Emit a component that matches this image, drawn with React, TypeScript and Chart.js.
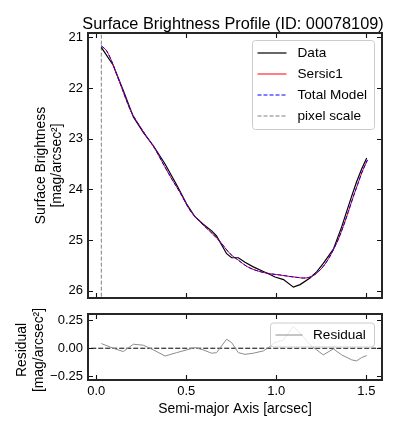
import React, { useEffect, useRef } from 'react';
import { Chart, registerables } from 'chart.js';

Chart.register(...registerables);

const FONT = "'Liberation Sans', Arial, Helvetica, sans-serif";

const TITLE = 'Surface Brightness Profile (ID: 00078109)';
const Y_LABEL_MAIN = ['Surface Brightness', '[mag/arcsec\u00B2]'];
const Y_LABEL_RES = ['Residual', '[mag/arcsec\u00B2]'];
const X_LABEL = 'Semi-major Axis [arcsec]';

// Observed profile (semi-major axis in arcsec)
const radiusData = [0.028, 0.094, 0.15, 0.206, 0.262, 0.317, 0.382, 0.446, 0.502, 0.548, 0.594, 0.641, 0.668, 0.724, 0.752, 0.789, 0.826, 0.872, 0.928, 0.965, 0.993, 1.04, 1.095, 1.132, 1.187, 1.224, 1.261, 1.317, 1.363, 1.419, 1.446, 1.474, 1.502];
const sbData = [21.2, 21.55, 22.05, 22.57, 22.88, 23.14, 23.5, 23.91, 24.29, 24.54, 24.69, 24.82, 24.92, 25.27, 25.35, 25.35, 25.44, 25.53, 25.62, 25.68, 25.73, 25.78, 25.93, 25.88, 25.75, 25.63, 25.46, 25.18, 24.74, 24.13, 23.85, 23.6, 23.38];
const residualData = [0.042, 0.0, -0.03, 0.036, 0.027, -0.015, -0.07, -0.04, -0.015, 0.006, -0.015, -0.045, -0.04, 0.081, 0.05, -0.04, -0.055, -0.045, -0.024, 0.015, 0.05, 0.075, 0.196, 0.135, 0.03, -0.015, -0.06, -0.006, -0.06, -0.105, -0.114, -0.084, -0.066];

// Model profile
const radiusModel = [0.028, 0.056, 0.083, 0.111, 0.139, 0.167, 0.194, 0.232, 0.278, 0.324, 0.38, 0.42, 0.465, 0.52, 0.576, 0.632, 0.687, 0.743, 0.79, 0.836, 0.88, 0.928, 0.975, 1.02, 1.076, 1.122, 1.15, 1.18, 1.206, 1.235, 1.261, 1.29, 1.317, 1.345, 1.372, 1.4, 1.428, 1.452, 1.474, 1.506];
const sbSersic1 = [21.17, 21.26, 21.45, 21.71, 21.97, 22.24, 22.47, 22.7, 22.95, 23.19, 23.55, 23.8, 24.06, 24.41, 24.64, 24.83, 25.03, 25.27, 25.4, 25.52, 25.59, 25.64, 25.67, 25.69, 25.72, 25.74, 25.75, 25.74, 25.7, 25.62, 25.52, 25.37, 25.19, 24.98, 24.73, 24.44, 24.14, 23.9, 23.68, 23.42];
const sbTotal = sbSersic1;

const pixelScale = 0.028;

const xTicks = [0, 0.5, 1.0, 1.5];
const yTicksMain = [21, 22, 23, 24, 25, 26];
const yTicksRes = [-0.25, 0, 0.25];
const xMin = -0.046;
const xMax = 1.587;
const yMainTop = 20.915;
const yMainBottom = 26.144;
const yResMin = -0.286;
const yResMax = 0.308;

const pts = (xs: number[], ys: number[]) => xs.map((x, i) => ({ x, y: ys[i] }));

type LegendItem = { label: string; color: string; dash: number[]; width: number };

function drawFrame(chart: any, yVals: number[]) {
  const { ctx, chartArea: a, scales } = chart;
  ctx.save();
  ctx.setLineDash([]);
  ctx.strokeStyle = '#111';
  ctx.lineWidth = 1.1;
  const L = 5;
  ctx.beginPath();
  for (const v of xTicks) {
    const p = Math.round(scales.x.getPixelForValue(v)) + 0.5;
    ctx.moveTo(p, a.bottom);
    ctx.lineTo(p, a.bottom - L);
    ctx.moveTo(p, a.top);
    ctx.lineTo(p, a.top + L);
  }
  for (const v of yVals) {
    const p = Math.round(scales.y.getPixelForValue(v)) + 0.5;
    ctx.moveTo(a.left, p);
    ctx.lineTo(a.left + L, p);
    ctx.moveTo(a.right, p);
    ctx.lineTo(a.right - L, p);
  }
  ctx.stroke();
  ctx.strokeStyle = '#262626';
  ctx.lineWidth = 2;
  ctx.strokeRect(a.left, a.top, a.right - a.left, a.bottom - a.top);
  ctx.restore();
}

function drawVText(ctx: CanvasRenderingContext2D, text: string, x: number, y: number, size: number) {
  ctx.save();
  ctx.translate(x, y);
  ctx.rotate(-Math.PI / 2);
  ctx.font = `${size}px ${FONT}`;
  ctx.fillStyle = '#000';
  ctx.textAlign = 'center';
  ctx.textBaseline = 'middle';
  ctx.fillText(text, 0, 0);
  ctx.restore();
}

function roundRectPath(ctx: CanvasRenderingContext2D, x: number, y: number, w: number, h: number, r: number) {
  ctx.beginPath();
  ctx.moveTo(x + r, y);
  ctx.lineTo(x + w - r, y);
  ctx.arcTo(x + w, y, x + w, y + r, r);
  ctx.lineTo(x + w, y + h - r);
  ctx.arcTo(x + w, y + h, x + w - r, y + h, r);
  ctx.lineTo(x + r, y + h);
  ctx.arcTo(x, y + h, x, y + h - r, r);
  ctx.lineTo(x, y + r);
  ctx.arcTo(x, y, x + r, y, r);
  ctx.closePath();
}

function drawLegend(ctx: CanvasRenderingContext2D, box: { x: number; y: number; w: number; h: number }, items: LegendItem[], firstY: number, step: number, lineX0: number, lineX1: number, textX: number) {
  ctx.save();
  roundRectPath(ctx, box.x + 0.5, box.y + 0.5, box.w, box.h, 3);
  ctx.fillStyle = 'rgba(255,255,255,0.8)';
  ctx.fill();
  ctx.strokeStyle = '#cccccc';
  ctx.lineWidth = 1;
  ctx.stroke();
  ctx.font = `13.6px ${FONT}`;
  ctx.textAlign = 'left';
  ctx.textBaseline = 'middle';
  items.forEach((it, i) => {
    const y = firstY + i * step;
    ctx.beginPath();
    ctx.setLineDash(it.dash);
    ctx.strokeStyle = it.color;
    ctx.lineWidth = it.width;
    ctx.moveTo(lineX0, y + 0.5);
    ctx.lineTo(lineX1, y + 0.5);
    ctx.stroke();
    ctx.setLineDash([]);
    ctx.fillStyle = '#000';
    ctx.fillText(it.label, textX, y + 0.5);
  });
  ctx.restore();
}

const mainDecor = {
  id: 'mainDecor',
  afterDatasetsDraw(chart: any) {
    const ctx = chart.ctx as CanvasRenderingContext2D;
    drawLegend(
      ctx,
      { x: 252, y: 40, w: 122, h: 89 },
      [
        { label: 'Data', color: '#000000', dash: [], width: 1.2 },
        { label: 'Sersic1', color: '#ff0000', dash: [], width: 1 },
        { label: 'Total Model', color: '#0000ff', dash: [4, 2], width: 1 },
        { label: 'pixel scale', color: '#808080', dash: [4, 2], width: 1 },
      ],
      52.5, 21, 257.5, 286.5, 297.5
    );
  },
  afterDraw(chart: any) {
    const ctx = chart.ctx as CanvasRenderingContext2D;
    drawFrame(chart, yTicksMain);
    const a = chart.chartArea;
    ctx.save();
    ctx.font = `16.3px ${FONT}`;
    ctx.fillStyle = '#000';
    ctx.textAlign = 'center';
    ctx.textBaseline = 'alphabetic';
    ctx.fillText(TITLE, (a.left + a.right) / 2 - 2, 28.5);
    ctx.restore();
    const cy = (a.top + a.bottom) / 2;
    drawVText(ctx, Y_LABEL_MAIN[0], 41, cy, 13.9);
    drawVText(ctx, Y_LABEL_MAIN[1], 57, cy, 13.9);
  },
};

const resDecor = {
  id: 'resDecor',
  afterDatasetsDraw(chart: any) {
    const ctx = chart.ctx as CanvasRenderingContext2D;
    // box coords are relative to this canvas (top offset 306)
    drawLegend(
      ctx,
      { x: 270, y: 16.5, w: 104, h: 24 },
      [{ label: 'Residual', color: '#8c8c8c', dash: [], width: 1 }],
      28.5, 21, 275.5, 302.5, 313
    );
  },
  afterDraw(chart: any) {
    const ctx = chart.ctx as CanvasRenderingContext2D;
    drawFrame(chart, yTicksRes);
    const a = chart.chartArea;
    const cy = (a.top + a.bottom) / 2 + 3;
    drawVText(ctx, Y_LABEL_RES[0], 22, cy, 13.9);
    drawVText(ctx, Y_LABEL_RES[1], 39.5, cy, 13.9);
    ctx.save();
    ctx.font = `13.9px ${FONT}`;
    ctx.fillStyle = '#000';
    ctx.textAlign = 'center';
    ctx.textBaseline = 'middle';
    ctx.fillText(X_LABEL, (a.left + a.right) / 2, 409 - 306);
    ctx.restore();
  },
};

const tickFont = { family: FONT, size: 13 };

export default function App() {
  const mainRef = useRef<HTMLCanvasElement>(null);
  const resRef = useRef<HTMLCanvasElement>(null);

  useEffect(() => {
    if (!mainRef.current || !resRef.current) return;

    const mainChart = new Chart(mainRef.current, {
      type: 'line',
      data: {
        datasets: [
          {
            label: 'Data',
            data: pts(radiusData, sbData),
            borderColor: '#000000',
            borderWidth: 1.2,
            pointRadius: 0,
            tension: 0,
            order: 3,
          },
          {
            label: 'Sersic1',
            data: pts(radiusModel, sbSersic1),
            borderColor: '#ff0000',
            borderWidth: 1,
            pointRadius: 0,
            cubicInterpolationMode: 'monotone',
            order: 2,
          },
          {
            label: 'Total Model',
            data: pts(radiusModel, sbTotal),
            borderColor: '#0000ff',
            borderWidth: 1,
            borderDash: [4, 2],
            pointRadius: 0,
            cubicInterpolationMode: 'monotone',
            order: 1,
          },
          {
            label: 'pixel scale',
            data: [
              { x: pixelScale, y: 20 },
              { x: pixelScale, y: 27 },
            ],
            borderColor: '#808080',
            borderWidth: 1,
            borderDash: [4, 2],
            pointRadius: 0,
            order: 4,
          },
        ],
      } as any,
      options: {
        animation: false,
        responsive: false,
        maintainAspectRatio: false,
        events: [],
        layout: { padding: { top: 33, right: 14, bottom: 8, left: 0 } },
        plugins: { legend: { display: false }, title: { display: false }, tooltip: { enabled: false } },
        scales: {
          x: {
            type: 'linear',
            display: false,
            min: xMin,
            max: xMax,
          },
          y: {
            type: 'linear',
            reverse: true,
            min: yMainTop,
            max: yMainBottom,
            grid: { display: false, drawTicks: false },
            border: { display: false },
            ticks: {
              padding: 5,
              font: tickFont,
              color: '#000',
              callback: (v: any) => String(v),
            },
            afterBuildTicks: (s: any) => {
              s.ticks = yTicksMain.map((value) => ({ value }));
            },
            afterFit: (s: any) => {
              s.width = 88;
              s.paddingTop = 0;
              s.paddingBottom = 0;
            },
          },
        },
      } as any,
      plugins: [mainDecor],
    });

    const resChart = new Chart(resRef.current, {
      type: 'line',
      data: {
        datasets: [
          {
            label: 'Residual',
            data: pts(radiusData, residualData),
            borderColor: '#8c8c8c',
            borderWidth: 1,
            pointRadius: 0,
            tension: 0,
            order: 1,
          },
          {
            label: 'zero',
            data: [
              { x: -1, y: 0 },
              { x: 3, y: 0 },
            ],
            borderColor: '#000000',
            borderWidth: 1,
            borderDash: [5, 2],
            pointRadius: 0,
            order: 2,
          },
        ],
      } as any,
      options: {
        animation: false,
        responsive: false,
        maintainAspectRatio: false,
        events: [],
        layout: { padding: { top: 8, right: 14, bottom: 0, left: 0 } },
        plugins: { legend: { display: false }, title: { display: false }, tooltip: { enabled: false } },
        scales: {
          x: {
            type: 'linear',
            min: xMin,
            max: xMax,
            grid: { display: false, drawTicks: false },
            border: { display: false },
            ticks: {
              padding: 4,
              font: tickFont,
              color: '#000',
              maxRotation: 0,
              callback: (v: any) => Number(v).toFixed(1),
            },
            afterBuildTicks: (s: any) => {
              s.ticks = xTicks.map((value) => ({ value }));
            },
            afterFit: (s: any) => {
              s.height = 52;
              s.paddingLeft = 0;
              s.paddingRight = 0;
            },
          },
          y: {
            type: 'linear',
            min: yResMin,
            max: yResMax,
            grid: { display: false, drawTicks: false },
            border: { display: false },
            ticks: {
              padding: 5,
              font: tickFont,
              color: '#000',
              callback: (v: any) => {
                const n = Number(v);
                return (n < 0 ? '\u2212' : '') + Math.abs(n).toFixed(2);
              },
            },
            afterBuildTicks: (s: any) => {
              s.ticks = yTicksRes.map((value) => ({ value }));
            },
            afterFit: (s: any) => {
              s.width = 88;
              s.paddingTop = 0;
              s.paddingBottom = 0;
            },
          },
        },
      } as any,
      plugins: [resDecor],
    });

    return () => {
      mainChart.destroy();
      resChart.destroy();
    };
  }, []);

  return (
    <div style={{ position: 'absolute', left: 0, top: 0, width: 396, height: 432, background: '#fff' }}>
      <canvas ref={mainRef} width={396} height={306} style={{ position: 'absolute', left: 0, top: 0, width: 396, height: 306 }} />
      <canvas ref={resRef} width={396} height={126} style={{ position: 'absolute', left: 0, top: 306, width: 396, height: 126 }} />
    </div>
  );
}
